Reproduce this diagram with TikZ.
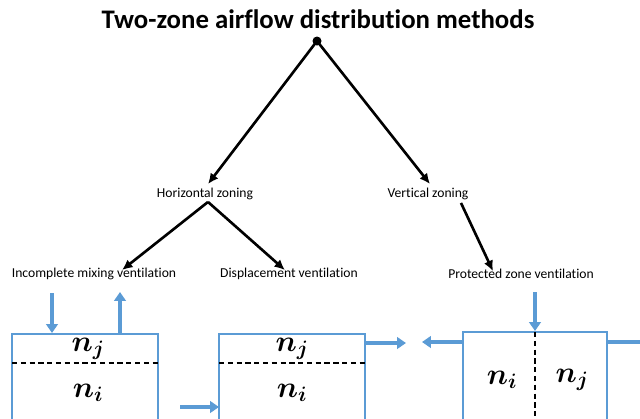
\RequirePackage{fix-cm}
\documentclass[tikz,border=0pt]{standalone}
\usepackage{amsmath,amssymb,bm}
\usepackage{fontspec}
\setmainfont{Carlito}[Ligatures={NoCommon}]
\usetikzlibrary{calc,positioning,arrows.meta}
\definecolor{zoneblue}{RGB}{91,155,213}

\begin{document}
\begin{tikzpicture}[x=0.4mm,y=-0.4mm,>=Latex]
  \tikzset{
    lbl/.style={font=\fontsize{15.5}{17}\selectfont,inner sep=1pt},
    tree/.style={line width=3pt,-{Latex[length=12pt,width=11pt]}},
    room/.style={draw=zoneblue,line width=1.8pt},
    flow/.style={draw=zoneblue,line width=4.5pt,-{Triangle[length=10pt,width=13pt]}},
    split/.style={line width=1.8pt,dash pattern=on 6pt off 4pt},
    conc/.style={font=\fontsize{34}{36}\selectfont,inner sep=0pt},
  }
  \useasboundingbox (0,0) rectangle (640,418);
  \clip (0,0) rectangle (640,418);

  \node[font=\bfseries\fontsize{30.5}{34}\selectfont] (title) at (318,19) {Two-zone airflow distribution methods};
  \fill (317,41) circle (4.5) coordinate (root);

  \node[lbl] (hz) at (205,194) {Horizontal zoning};
  \node[lbl] (vz) at (428,194) {Vertical zoning};
  \node[lbl] (imv) at (94,274) {Incomplete mixing ventilation};
  \node[lbl] (dv) at (289,274) {Displacement ventilation};
  \node[lbl] (pzv) at (521,274) {Protected zone ventilation};

  \draw[tree] (root) -- ($(hz.north)+(3,-3)$);
  \draw[tree] (root) -- ($(vz.north)+(2,-3)$);
  \draw[tree] ($(hz.south)+(3,1)$) -- ($(imv.north)+(28,3)$);
  \draw[tree] ($(hz.south)+(3,1)$) -- ($(dv.north)+(-4,3)$);
  \draw[tree] ($(vz.south)+(33,2)$) -- ($(pzv.north)+(-28,3)$);

  \draw[room] (12,334) rectangle (158,440);
  \draw[split] (12,363) -- (158,363);
  \node[conc] (nj1) at (88,349) {$\bm{n_j}$};
  \node[conc] (ni1) at (88,393) {$\bm{n_i}$};
  \coordinate (in1) at (52,293); \coordinate (top1) at (52,333);
  \coordinate (out1) at (120,292); \coordinate (bot1) at (120,334);
  \draw[flow] (in1) -- (top1);
  \draw[flow] (bot1) -- (out1);

  \draw[room] (219,334) rectangle (365,440);
  \draw[split] (219,363) -- (365,363);
  \node[conc] (nj2) at (292,349) {$\bm{n_j}$};
  \node[conc] (ni2) at (292,393) {$\bm{n_i}$};
  \coordinate (in2) at (180,407); \coordinate (side2) at (219,407);
  \coordinate (wall2) at (365,343); \coordinate (out2) at (406,343);
  \draw[flow] (in2) -- (side2);
  \draw[flow] (wall2) -- (out2);

  \draw[room] (463,332) rectangle (607,440);
  \draw[split] (535,332) -- (535,440);
  \node[conc] (ni3) at (502,380) {$\bm{n_i}$};
  \node[conc] (nj3) at (572,380) {$\bm{n_j}$};
  \coordinate (in3) at (535,292); \coordinate (top3) at (535,331);
  \coordinate (wallL) at (463,342); \coordinate (outL) at (422,342);
  \coordinate (wallR) at (607,342); \coordinate (outR) at (650,342);
  \draw[flow] (in3) -- (top3);
  \draw[flow] (wallL) -- (outL);
  \draw[flow] (wallR) -- (outR);
\end{tikzpicture}
\end{document}
